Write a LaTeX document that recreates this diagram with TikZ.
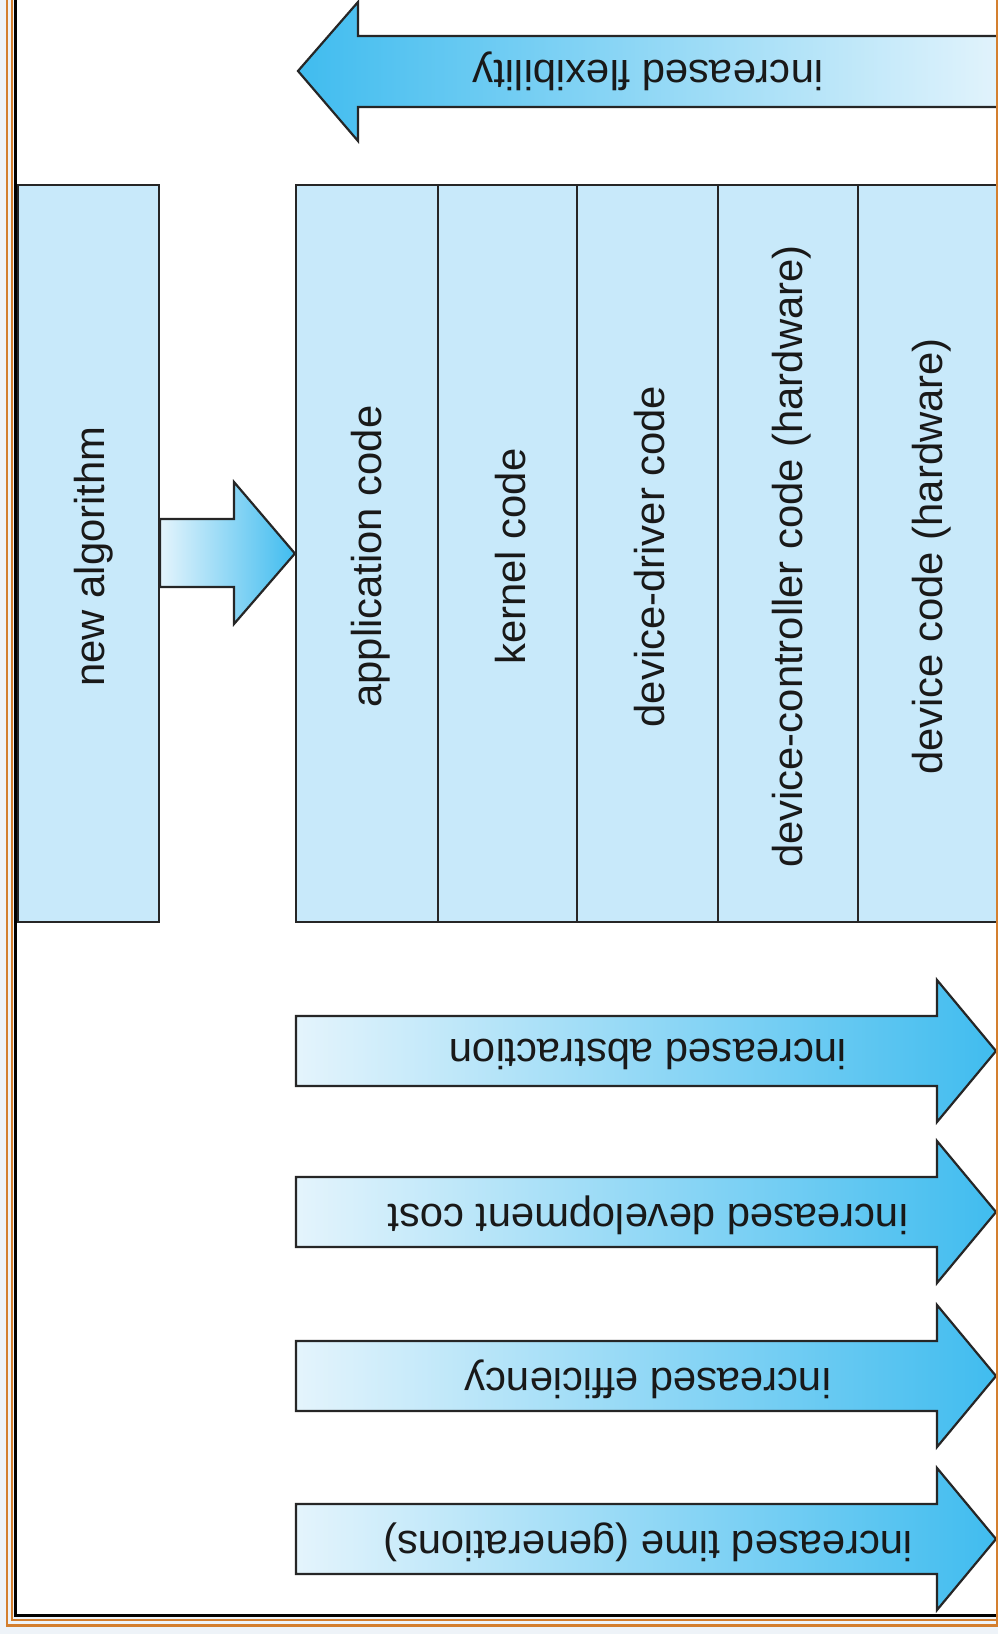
\documentclass[tikz,border=0pt]{standalone}
\usepackage{fontspec}
\setmainfont{Liberation Sans}
\begin{document}
\begin{tikzpicture}[x=1pt,y=-1pt,
  outl/.style={draw=black!85, line width=2.2pt, line join=miter},
  boxstyle/.style={outl, fill=boxblue, inner sep=0pt, minimum width=#1, minimum height=737pt},
  lbl/.style={font=\fontsize{41.8}{50}\selectfont, text=black!90, inner sep=0pt},
  fwd/.style={outl, left color=arrlight, right color=arrvivid},
  back/.style={outl, left color=arrvivid, right color=arrlight}
]
\definecolor{boxblue}{HTML}{C8E9FA}
\definecolor{arrlight}{HTML}{E4F4FC}
\definecolor{arrvivid}{HTML}{40BCEF}
\definecolor{frameorange}{HTML}{D47F2E}
\definecolor{outerbg}{HTML}{EEF3F8}
% page and background
\useasboundingbox (0,0) rectangle (998,1634);
\fill[outerbg] (0,0) rectangle (998,1634);
\fill[white] (15,0) rectangle (996,1617);

\begin{scope}
\clip (15,0) rectangle (996,1617);
% new algorithm box
\node[boxstyle=141pt] (alg) at (88.5,553.5) {};
\node[lbl, rotate=90] (algt) at ([shift={(5pt,-3pt)}]alg.center) {new algorithm};
% stack of code layers
\node[boxstyle=142pt] (app)  at (367,553.5) {};
\node[boxstyle=139pt] (kern) at (507.5,553.5) {};
\node[boxstyle=141pt] (drv)  at (647.5,553.5) {};
\node[boxstyle=140pt] (ctl)  at (788,553.5) {};
\node[boxstyle=140pt] (dev)  at (928,553.5) {};
\node[lbl, rotate=90] (appt)  at ([shift={(4pt,-3pt)}]app.center)  {application code};
\node[lbl, rotate=90] (kernt) at ([shift={(3pt,-3pt)}]kern.center) {kernel code};
\node[lbl, rotate=90] (drvt)  at ([shift={(2pt,-3pt)}]drv.center)  {device-driver code};
\node[lbl, rotate=90] (ctlt)  at ([shift={(4pt,-3pt)}]ctl.center)  {device-controller code (hardware)};
\node[lbl, rotate=90] (devt)  at ([shift={(4pt,-3pt)}]dev.center)  {device code (hardware)};

% arrow from new algorithm to application code
\coordinate (sa) at (alg.east |- 0,519);
\coordinate (tip) at (app.west);
\shadedraw[fwd] (sa) -- (234,519) -- (234,482) -- (tip) -- (234,624) -- (234,587) -- (alg.east |- 0,587) -- cycle;

% increased flexibility (pointing left)
\shade[left color=arrvivid, right color=arrlight] (1010,36) -- (358,36) -- (358,2) -- (298,71) -- (358,141) -- (358,107) -- (1010,107) -- cycle;
\draw[outl] (1010,36) -- (358,36) -- (358,2) -- (298,71) -- (358,141) -- (358,107) -- (1010,107);
\node[lbl, rotate=180] (flex) at (648,71) {increased flexibility};

% the four arrows pointing right
\foreach \c/\t/\n in {1051/increased abstraction/abs,
                      1212/increased development cost/cost,
                      1376/increased efficiency/eff,
                      1539/increased time (generations)/time}{
  \shadedraw[fwd] (296,\c-35) -- (937,\c-35) -- (937,\c-71) -- (996,\c) -- (937,\c+71) -- (937,\c+35) -- (296,\c+35) -- cycle;
  \node[lbl, rotate=180] (\n) at (648,\c+3) {\t};
}
\end{scope}

% frame
\draw[black, line width=3.5pt] (15.5,0) -- (15.5,1615.5) -- (998,1615.5);
\draw[frameorange, line width=2.2pt] (12,0) -- (12,1620) -- (998,1620);
\draw[frameorange, line width=2.4pt] (7,0) -- (7,1625.5) -- (998,1625.5);
\draw[frameorange, line width=1.5pt] (997.2,0) -- (997.2,1626);
\end{tikzpicture}
\end{document}
